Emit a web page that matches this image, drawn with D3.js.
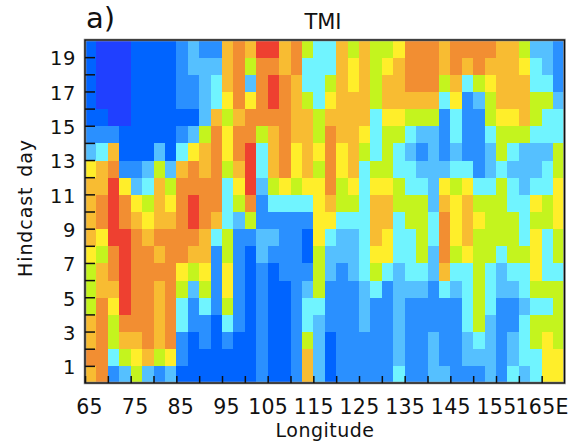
<!DOCTYPE html>
<html>
<head>
<meta charset="utf-8">
<script src="https://d3js.org/d3.v7.min.js"></script>
<style>
html,body{margin:0;padding:0;background:#fff;}
svg{display:block;}
text{font-family:"DejaVu Sans",sans-serif;fill:#111;}
</style>
</head>
<body>
<div id="chart"></div>
<script>
// Colour classes, low to high
const levelColors = ["#2040ff","#0064ff","#2a90ff","#55c0ff","#70f4ff","#c4f41e","#ffee2a","#f8bc32","#f28e32","#ee4030"];
const levels = d3.range(levelColors.length);
const lonStart = 65, lonEnd = 170, lonStep = 2.5;
const dayTicks = [1,2,3,4,5,6,7,8,9,10,11,12,13,14,15,16,17,18,19];
const dayLabels = [1,3,5,7,9,11,13,15,17,19];
const lonTicks = [65,70,75,80,85,90,95,100,105,110,115,120,125,130,135,140,145,150,155,160,165];
const lonLabels = {65:"65",75:"75",85:"85",95:"95",105:"105",115:"115",125:"125",135:"135",145:"145",155:"155",165:"165E"};

// Class of each cell: one row per hindcast day, first row = day 0-1, each row west to east
const day00 = [7,8,2,3,5,3,2,3,1,1,1,1,1,1, 1,2,1,1,2,7,3,1,2,2,2,2,2,4, 2,2,3,3,2,2,2,3,2,4,3,4,6,6];
const day01 = [8,8,4,5,6,7,5,6,2,1,1,1,1,1, 1,2,1,1,2,7,3,1,2,2,2,2,2,3, 2,2,3,2,2,3,3,3,2,3,4,4,6,6];
const day02 = [7,8,5,7,7,8,7,8,2,1,2,1,2,1, 1,2,1,1,2,5,3,1,2,2,2,2,2,3, 2,2,3,2,2,3,4,3,2,3,4,5,6,5];
const day03 = [7,8,5,8,8,8,7,8,4,2,2,1,4,2, 1,2,1,1,2,4,3,2,2,2,3,2,2,3, 2,2,2,2,2,4,5,3,2,2,4,5,5,5];
const day04 = [5,8,6,9,8,8,7,8,4,2,4,2,5,2, 1,2,1,1,2,4,4,2,2,2,3,2,2,3, 2,2,2,2,2,4,5,4,2,2,3,4,4,5];
const day05 = [5,7,7,9,8,8,7,8,5,3,5,2,6,2, 1,2,1,1,2,3,5,2,2,2,3,4,2,3, 3,3,2,4,3,4,5,4,3,3,4,5,5,5];
const day06 = [5,7,8,9,8,8,8,8,6,5,6,2,6,2, 1,2,1,2,2,2,5,3,2,3,4,5,4,3, 4,4,3,7,4,4,5,4,3,4,4,6,4,4];
const day07 = [6,5,8,9,8,8,7,8,8,7,7,2,5,2, 1,3,2,2,2,1,5,3,3,3,4,6,6,4, 4,5,3,8,5,6,5,5,4,5,5,6,4,5];
const day08 = [7,6,9,9,8,7,8,8,8,8,7,4,5,2, 2,3,3,2,2,1,6,4,3,3,4,7,6,4, 4,5,4,8,6,7,5,5,5,5,4,6,4,5];
const day09 = [7,8,9,8,7,6,7,7,8,9,8,7,4,3, 5,2,2,2,2,2,6,6,4,4,4,7,7,4, 5,5,4,8,6,7,6,5,5,5,4,5,5,6];
const day10 = [7,8,9,8,6,5,7,6,8,9,8,8,4,5, 8,2,4,4,4,4,6,7,5,5,4,7,7,5, 5,5,3,7,6,7,5,5,5,4,4,6,5,6];
const day11 = [7,7,9,6,3,4,7,5,8,8,8,8,4,6, 9,3,5,6,5,6,6,8,5,6,4,6,6,5, 4,4,3,6,5,6,4,4,5,4,3,4,4,6];
const day12 = [6,7,8,2,2,3,5,3,7,8,7,8,5,7, 9,4,7,8,6,7,5,8,6,7,4,5,5,4, 4,3,3,3,4,4,2,3,4,3,3,3,4,5];
const day13 = [3,4,7,1,1,1,3,1,4,6,7,8,6,8, 9,4,7,8,6,7,6,8,6,7,5,4,5,4, 3,2,3,2,3,2,2,3,5,4,3,3,3,5];
const day14 = [2,2,2,1,1,1,1,1,2,3,5,8,6,8, 8,5,7,8,7,7,5,8,7,7,6,4,5,5, 4,3,3,2,4,2,2,4,5,5,5,4,4,4];
const day15 = [1,1,0,0,1,1,1,1,1,1,3,7,5,7, 8,8,8,8,7,7,5,7,7,7,7,4,6,6, 5,5,5,2,4,2,2,5,6,6,7,5,4,4];
const day16 = [1,0,0,0,1,1,1,1,2,2,3,4,6,8, 6,8,9,8,7,5,4,6,7,7,7,5,7,7, 7,7,7,4,6,2,3,5,7,7,7,5,5,3];
const day17 = [1,0,0,0,1,1,1,1,2,2,3,4,7,8, 3,8,9,8,7,4,4,5,7,6,7,5,7,7, 8,8,8,5,7,4,5,6,7,7,7,4,4,2];
const day18 = [1,0,0,0,1,1,1,1,2,3,3,3,7,8, 5,8,8,7,8,4,4,4,7,6,7,5,6,7, 8,8,8,7,8,7,8,7,7,7,6,4,3,2];
const day19 = [1,0,0,0,1,1,1,1,2,3,2,2,7,8, 7,9,9,7,8,5,4,4,7,5,7,5,5,6, 8,8,8,7,8,8,8,8,7,7,5,3,3,2];
const rows = [day00,day01,day02,day03,day04,day05,day06,day07,day08,day09,day10,day11,day12,day13,day14,day15,day16,day17,day18,day19];

const W = 568, H = 445;
const m = {l:85, r:3.5, t:40, b:62};
const svg = d3.select("#chart").append("svg").attr("width",W).attr("height",H);
const x = d3.scaleLinear().domain([lonStart,lonEnd]).range([m.l,W-m.r]);
const y = d3.scaleLinear().domain([0,rows.length]).range([H-m.b,m.t]);
const color = d3.scaleOrdinal().domain(levels).range(levelColors);

const cells = rows.flatMap((r,j)=>r.map((v,i)=>({lon:lonStart+i*lonStep,day:j,v})));
svg.append("g").attr("shape-rendering","crispEdges").selectAll("rect").data(cells).join("rect")
  .attr("x",d=>x(d.lon))
  .attr("y",d=>y(d.day+1))
  .attr("width",d=>x(d.lon+lonStep)-x(d.lon)+0.5)
  .attr("height",d=>y(d.day)-y(d.day+1)+0.5)
  .attr("fill",d=>color(d.v));

// frame
svg.append("rect").attr("x",m.l).attr("y",m.t).attr("width",W-m.r-m.l).attr("height",H-m.b-m.t)
  .attr("fill","none").attr("stroke","#9a9a9a").attr("stroke-width",2.6);
svg.append("rect").attr("x",m.l).attr("y",m.t).attr("width",W-m.r-m.l).attr("height",H-m.b-m.t)
  .attr("fill","none").attr("stroke","#111").attr("stroke-width",1.3);

const yAxis = d3.axisLeft(y).tickValues(dayTicks).tickSize(-10).tickPadding(9)
  .tickFormat(d=>dayLabels.includes(d)?String(d):"");
const gy = svg.append("g").attr("transform",`translate(${m.l},0)`).call(yAxis);
gy.select(".domain").remove();
gy.selectAll("line").attr("stroke","#111").attr("stroke-width",1.5);
gy.selectAll("text").attr("font-size",19.5).attr("letter-spacing",0.6).attr("y",1.5).style("font-family",'"DejaVu Sans",sans-serif').attr("fill","#111");

const xAxis = d3.axisBottom(x).tickValues(lonTicks).tickSize(-7).tickPadding(16)
  .tickFormat(d=>lonLabels[d]||"");
const gx = svg.append("g").attr("transform",`translate(0,${H-m.b})`).call(xAxis);
gx.select(".domain").remove();
gx.selectAll("line").attr("stroke","#111").attr("stroke-width",1.5);
gx.selectAll("text").attr("font-size",20.5).attr("letter-spacing",0.3).style("font-family",'"DejaVu Sans",sans-serif').attr("fill","#111")
  .attr("dx",d=>d<100?4:0);

svg.append("text").attr("x",325).attr("y",437).attr("text-anchor","middle").attr("font-size",19).attr("letter-spacing",0.5).text("Longitude");
svg.append("text").attr("transform","translate(32,208) rotate(-90)").attr("text-anchor","middle").attr("font-size",19).attr("letter-spacing",0.9).attr("word-spacing",3).text("Hindcast day");
svg.append("text").attr("x",323).attr("y",29).attr("text-anchor","middle").attr("font-size",21).text("TMI");
svg.append("text").attr("x",86).attr("y",28).attr("font-size",29).text("a)");
</script>
</body>
</html>
